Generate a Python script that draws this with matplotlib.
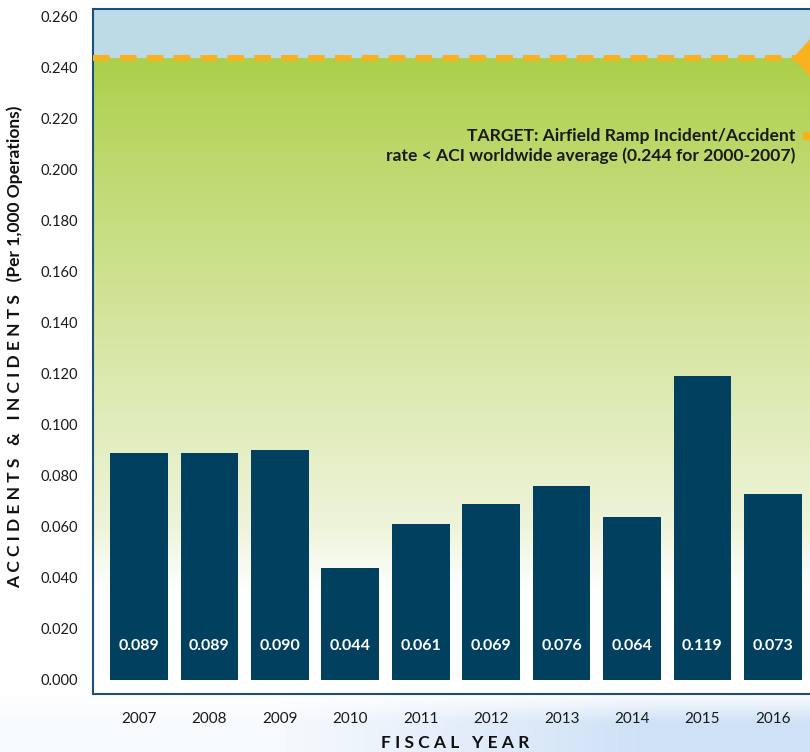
import numpy as np
import matplotlib.pyplot as plt
from matplotlib.colors import to_rgb
from matplotlib.patches import Polygon, Rectangle

# data
years = ['2007', '2008', '2009', '2010', '2011', '2012', '2013', '2014', '2015', '2016']
rates = [0.089, 0.089, 0.090, 0.044, 0.061, 0.069, 0.076, 0.064, 0.119, 0.073]
target = 0.244
y_ticks = [0.00, 0.02, 0.04, 0.06, 0.08, 0.10, 0.12, 0.14, 0.16, 0.18, 0.20, 0.22, 0.24, 0.26]
target_label = 'TARGET: Airfield Ramp Incident/Accident\nrate < ACI worldwide average (0.244 for 2000-2007)'
y_label = 'A C C I D E N T S   &   I N C I D E N T S   (Per 1,000 Operations)'
x_label = 'F I S C A L   Y E A R'

plt.rcParams['font.family'] = ['Lato', 'DejaVu Sans']

W, H = 810, 752
fig = plt.figure(figsize=(W / 100, H / 100), dpi=100)

# light blue wash along the bottom of the page
bg = fig.add_axes([0, 0, 1, 1], zorder=-5)
bg.axis('off')
yy, xx = np.mgrid[0:H, 0:W]
t = np.clip((yy - 692) / 30, 0, 1) * np.clip((xx - 200) / 450, 0.15, 1)
white = np.ones(3)
blue = np.array(to_rgb('#cfe1f6'))
bg.imshow(white * (1 - t[..., None]) + blue * t[..., None],
          extent=[0, 1, 0, 1], aspect='auto', origin='upper')
bg.set_xlim(0, 1)
bg.set_ylim(0, 1)

ax = fig.add_axes([93 / W, 1 - 694 / H, (812 - 93) / W, (694 - 9) / H])
x = np.arange(len(years))
xlo, xhi = -0.653, 9.555
ylo, yhi = -0.0055, 0.2631

# green gradient under the target, pale blue above it
stops_y = [ylo, 0.035, 0.06, 0.12, 0.20, target]
stops_c = ['#ffffff', '#ffffff', '#eef4da', '#dbe9ad', '#bfd970', '#abd04a']
gy = np.linspace(ylo, target, 300)
rgb = np.array([to_rgb(c) for c in stops_c])
grad = np.stack([np.interp(gy, stops_y, rgb[:, k]) for k in range(3)], axis=-1)
ax.imshow(grad[:, None, :], extent=[xlo, xhi, ylo, target], aspect='auto',
          origin='lower', zorder=0)
ax.axhspan(target, yhi, color='#bddbe6', zorder=0, lw=0)

ax.axhline(target, color='#f9b11e', lw=4.3, dashes=(2.8, 1.7), zorder=3)

ax.bar(x, rates, width=0.82, color='#02405f', zorder=2)
for i, v in enumerate(rates):
    ax.text(x[i], 0.0135, f'{v:.3f}', ha='center', va='center',
            color='white', fontweight='bold', fontsize=11.5, zorder=4)

ax.set_xlim(xlo, xhi)
ax.set_ylim(ylo, yhi)
ax.set_xticks(x)
ax.set_xticklabels(years)
ax.set_yticks(y_ticks)
ax.set_yticklabels([f'{v:.3f}' for v in y_ticks])
ax.tick_params(axis='both', length=0, colors='#1a1a1a')
ax.tick_params(axis='y', pad=11, labelsize=10.5)
ax.tick_params(axis='x', pad=13, labelsize=11)
for s in ax.spines.values():
    s.set_color('#1d4f7c')
    s.set_linewidth(1.5)
ax.spines['right'].set_visible(False)

# arrow head and leader stub on the right edge
y_px = 58
fig.patches.append(Polygon([[794 / W, 1 - y_px / H], [1.0, 1 - (y_px - 18) / H],
                            [1.0, 1 - (y_px + 18) / H]], closed=True,
                           transform=fig.transFigure, color='#f9b11e', zorder=5))
fig.patches.append(Rectangle((803 / W, 1 - 139 / H), 8 / W, 7 / H,
                             transform=fig.transFigure, color='#f9b11e', zorder=5))

fig.text(795 / W, 1 - 146 / H, target_label, ha='right', va='center',
         fontsize=12.6, fontweight='bold', color='#1a1a1a', linespacing=1.3)

fig.text(15 / W, 1 - 347 / H, y_label, rotation=90, ha='center', va='center',
         fontsize=12.5, fontweight='bold', color='#111111')
fig.text(455 / W, 1 - 743 / H, x_label, ha='center', va='center',
         fontsize=12.5, fontweight='bold', color='#111111')

fig.savefig('out.png', dpi=100)
